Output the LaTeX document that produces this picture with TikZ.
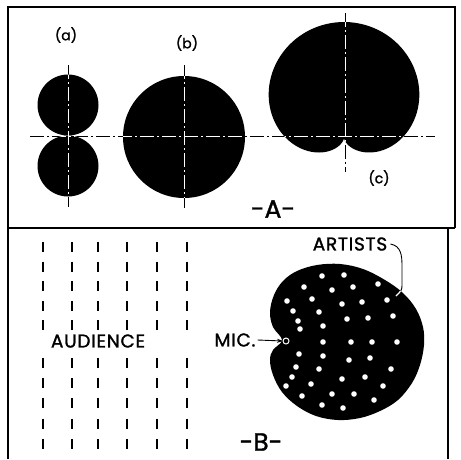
\documentclass[tikz,border=0pt]{standalone}
\usepackage{fontspec}
\setmainfont{Poppins}
\newfontfamily\letters{Poppins}[FakeBold=1.4]
\usepackage{tikz}
\usetikzlibrary{arrows.meta}
\colorlet{ink}{black}
\colorlet{paper}{white}
\newcommand{\artistsblob}{plot[smooth cycle, tension=0.6] coordinates {(282,340) (273,327) (270,312) (274,295) (283,281) (297,271) (317,265) (340,264) (363,269) (385,280) (403,293) (416,309) (423,327) (424,345) (420,365) (412,383) (398,400) (380,411) (360,418) (338,420) (316,416) (297,406) (282,392) (273,375) (270,360) (273,350)}}
\newcommand{\cardioid}{plot[domain=0:360, samples=150, variable=\t] ({344+58*(1+sin(\t))*cos(\t)}, {138-58*(1+sin(\t))*sin(\t)})}
\tikzset{
  axisline/.style={line width=0.8pt, dash pattern=on 14pt off 3pt on 2pt off 3pt},
  seatrow/.style={ink, line width=2.6pt},
  tag/.style={font=\letters\fontsize{14}{14}\selectfont, inner sep=0pt},
  caption/.style={font=\letters\fontsize{25}{25}\selectfont, inner sep=0pt},
  legend/.style={font=\letters\fontsize{18.5}{18.5}\selectfont\addfontfeature{LetterSpace=4}, inner sep=0pt},
}

\begin{document}
\begin{tikzpicture}[x=1pt, y=-1pt]
  \useasboundingbox (0,0) rectangle (461,459);
\fill[paper] (0,0) rectangle (461,459);
% frame
\draw[ink, line width=2pt] (8,459) -- (8,7) -- (455,7) -- (455,228);
\draw[ink, line width=2pt] (8,228) -- (455,228);
\draw[ink, line width=2pt] (448,228) -- (448,459);
% axes
\draw[ink, axisline] (30,136) -- (435,136);
\draw[ink, axisline] (68,65) -- (68,207);
\draw[ink, axisline] (184,65) -- (184,208);
\draw[ink, axisline] (345,13) -- (345,172);
% polar patterns
\fill[ink] (68,105) circle (30.5);
\fill[ink] (68,166) circle (30.5);
\fill[ink] (184,137) circle (61);
\fill[ink] \cardioid;
\begin{scope}
  \clip (68,105) circle (30.5) (68,166) circle (30.5);
  \draw[paper, axisline] (30,136) -- (435,136);
  \draw[paper, axisline] (68,65) -- (68,207);
\end{scope}
\begin{scope}
  \clip (184,137) circle (61);
  \draw[paper, axisline] (30,136) -- (435,136);
  \draw[paper, axisline] (184,65) -- (184,208);
\end{scope}
\begin{scope}
  \clip \cardioid;
  \draw[paper, axisline] (30,136) -- (435,136);
  \draw[paper, axisline] (345,13) -- (345,172);
\end{scope}
\node[tag] (taga) at (66,35) {(a)};
\node[tag] (tagb) at (187,43) {(b)};
\node[tag] (tagc) at (379,178) {(c)};
\node[caption] (capA) at (273,209) {-A-};
% audience
\draw[seatrow, dash pattern=on 10pt off 9.6pt] (43,242) -- (43,331);
\draw[seatrow, dash pattern=on 10pt off 9.6pt] (72,242) -- (72,331);
\draw[seatrow, dash pattern=on 10pt off 9.6pt] (98,242) -- (98,331);
\draw[seatrow, dash pattern=on 10pt off 9.6pt] (127,242) -- (127,331);
\draw[seatrow, dash pattern=on 10pt off 9.6pt] (157,242) -- (157,331);
\draw[seatrow, dash pattern=on 10pt off 9.6pt] (187,242) -- (187,331);
\draw[seatrow, dash pattern=on 10pt off 10.2pt] (43,358) -- (43,449);
\draw[seatrow, dash pattern=on 10pt off 10.2pt] (72,358) -- (72,449);
\draw[seatrow, dash pattern=on 10pt off 10.2pt] (98,358) -- (98,449);
\draw[seatrow, dash pattern=on 10pt off 10.2pt] (127,358) -- (127,449);
\draw[seatrow, dash pattern=on 10pt off 10.2pt] (157,358) -- (157,449);
\draw[seatrow, dash pattern=on 10pt off 10.2pt] (187,358) -- (187,449);
\node[legend] (audience) at (98,341) {AUDIENCE};
% artists
\fill[ink] \artistsblob;
\fill[paper] (322,276) circle (2.8);
\fill[paper] (344,275) circle (2.8);
\fill[paper] (304,287) circle (2.8);
\fill[paper] (332,290) circle (2.8);
\fill[paper] (353,287) circle (2.8);
\fill[paper] (378,284) circle (2.8);
\fill[paper] (287,301) circle (2.8);
\fill[paper] (312,299) circle (2.8);
\fill[paper] (342,304) circle (2.8);
\fill[paper] (362,302) circle (2.8);
\fill[paper] (387,300) circle (2.8);
\fill[paper] (293,311) circle (2.8);
\fill[paper] (319,312) circle (2.8);
\fill[paper] (298,321) circle (2.8);
\fill[paper] (347,319) circle (2.8);
\fill[paper] (368,318) circle (2.8);
\fill[paper] (393,316) circle (2.8);
\fill[paper] (300,329) circle (2.8);
\fill[paper] (323,326) circle (2.8);
\fill[paper] (323,342) circle (2.8);
\fill[paper] (351,342) circle (2.8);
\fill[paper] (372,342) circle (2.8);
\fill[paper] (397,342) circle (2.8);
\fill[paper] (299,354) circle (2.8);
\fill[paper] (323,356) circle (2.8);
\fill[paper] (349,360) circle (2.8);
\fill[paper] (370,358) circle (2.8);
\fill[paper] (296,367) circle (2.8);
\fill[paper] (319,369) circle (2.8);
\fill[paper] (391,369) circle (2.8);
\fill[paper] (292,377) circle (2.8);
\fill[paper] (342,379) circle (2.8);
\fill[paper] (365,377) circle (2.8);
\fill[paper] (286,386) circle (2.8);
\fill[paper] (311,384) circle (2.8);
\fill[paper] (383,386) circle (2.8);
\fill[paper] (302,396) circle (2.8);
\fill[paper] (332,394) circle (2.8);
\fill[paper] (354,394) circle (2.8);
\fill[paper] (374,400) circle (2.8);
\fill[paper] (322,405) circle (2.8);
\fill[paper] (343,408) circle (2.8);
\draw[paper, line width=1pt] (286,341) circle (3);
\coordinate (micring) at (283,341);
\coordinate (artistsend) at (396,296);
\node[legend] (artists) at (350,244) {ARTISTS};
\node[legend] (mic) at (235,340) {MIC.};
\draw[ink, line width=0.9pt, -{Stealth[length=6pt, width=4pt]}] (mic.east) ++(2,0) -- (micring);
\draw[ink, line width=0.9pt] (artists.east) ++(3,0) .. controls (401,246) and (402,255) .. (402,266) -- (402,284) .. controls (402,290) .. (artistsend);
\begin{scope}
  \clip \artistsblob;
  \draw[paper, line width=1.2pt] (artists.east) ++(3,0) .. controls (401,246) and (402,255) .. (402,266) -- (402,284) .. controls (402,290) .. (artistsend);
\end{scope}
\node[caption] (capB) at (261,442) {-B-};

\end{tikzpicture}
\end{document}
